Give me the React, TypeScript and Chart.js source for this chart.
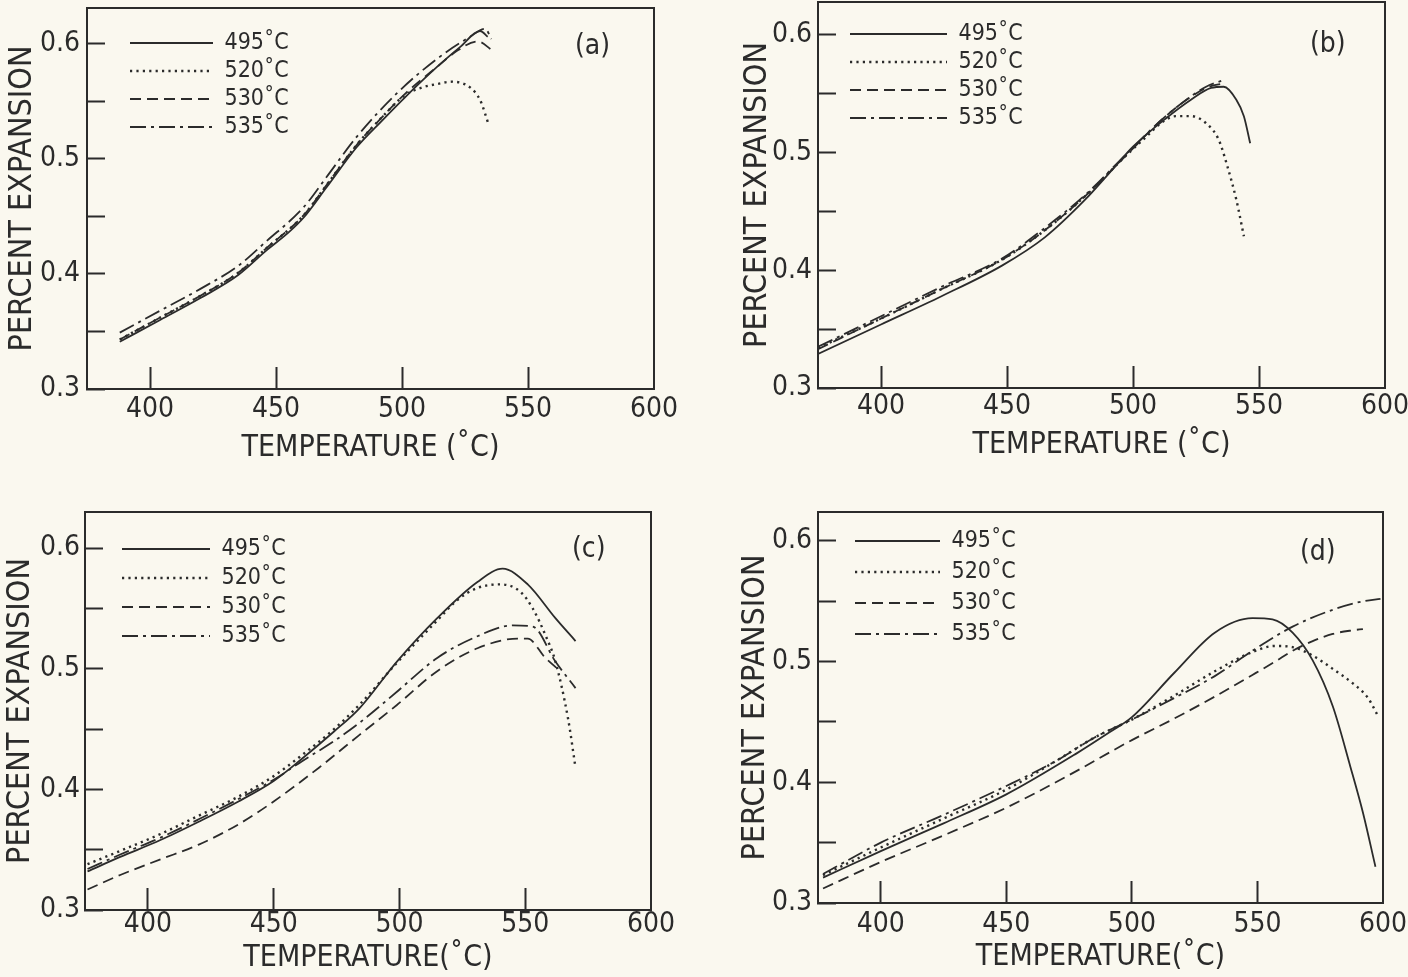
import React, { useEffect, useRef } from 'react';
import { Chart, registerables } from 'chart.js';

Chart.register(...registerables);

const FONT = "'Liberation Sans Narrow', 'DejaVu Sans Condensed', 'Liberation Sans', sans-serif";
const INK = '#2b2b2b';
const BG = '#faf8ef';

// ---------- shared labels / ticks ----------
const SERIES_LABELS = ['495˚C', '520˚C', '530˚C', '535˚C'];
const X_TICKS = [400, 450, 500, 550, 600];
const Y_TICKS = [0.3, 0.35, 0.4, 0.45, 0.5, 0.55, 0.6];
const X_MIN = 375;
const X_MAX = 600;
const Y_MIN = 0.3;

// ---------- panel (a) ----------
const A_T495 = [388, 404, 420, 435, 446, 455, 461, 470, 482, 492, 501, 514, 523, 531, 534];
const A_V495 = [0.341, 0.360, 0.379, 0.399, 0.420, 0.436, 0.449, 0.475, 0.510, 0.533, 0.553, 0.580, 0.597, 0.611, 0.606];
const A_T520 = [388, 404, 420, 435, 446, 461, 470, 482, 492, 501, 508, 514, 520, 527, 531, 534.5];
const A_V520 = [0.343, 0.362, 0.381, 0.401, 0.422, 0.451, 0.477, 0.512, 0.536, 0.555, 0.562, 0.565, 0.567, 0.562, 0.551, 0.529];
const A_T530 = [388, 404, 420, 435, 446, 461, 470, 482, 492, 501, 514, 522, 530, 536];
const A_V530 = [0.343, 0.362, 0.381, 0.401, 0.422, 0.451, 0.477, 0.512, 0.536, 0.556, 0.580, 0.594, 0.602, 0.594];
const A_T535 = [388, 404, 420, 435, 446, 461, 470, 482, 498, 514, 527, 533, 535.5];
const A_V535 = [0.349, 0.368, 0.387, 0.407, 0.428, 0.458, 0.484, 0.519, 0.557, 0.587, 0.606, 0.613, 0.604];

// ---------- panel (b) ----------
const B_T495 = [375, 400, 424, 448, 465, 481, 492, 500, 513, 523, 531, 536, 541, 544, 546.5];
const B_V495 = [0.329, 0.354, 0.378, 0.404, 0.428, 0.460, 0.486, 0.505, 0.529, 0.545, 0.555, 0.556, 0.545, 0.531, 0.508];
const B_T520 = [375, 400, 424, 448, 465, 481, 497, 506, 511, 517, 523, 529, 534, 537.5, 541, 544];
const B_V520 = [0.334, 0.359, 0.384, 0.409, 0.434, 0.463, 0.497, 0.515, 0.525, 0.531, 0.531, 0.525, 0.511, 0.488, 0.460, 0.429];
const B_T530 = [375, 400, 424, 448, 465, 481, 497, 513, 529, 536.5];
const B_V530 = [0.333, 0.359, 0.384, 0.409, 0.434, 0.463, 0.497, 0.531, 0.555, 0.559];
const B_T535 = [375, 400, 424, 448, 465, 481, 497, 513, 529, 535];
const B_V535 = [0.335, 0.361, 0.386, 0.410, 0.436, 0.464, 0.498, 0.531, 0.556, 0.561];

// ---------- panel (c) ----------
const C_T495 = [376, 389, 405, 420, 436, 450, 461, 474, 484, 499, 515, 531, 541, 551, 562, 570];
const C_V495 = [0.332, 0.344, 0.358, 0.373, 0.390, 0.407, 0.425, 0.448, 0.467, 0.506, 0.542, 0.572, 0.583, 0.570, 0.542, 0.523];
const C_T520 = [376, 389, 405, 420, 436, 450, 461, 474, 484, 499, 515, 523, 531, 540, 548, 553, 558, 562, 567, 570];
const C_V520 = [0.338, 0.349, 0.363, 0.378, 0.394, 0.411, 0.428, 0.450, 0.470, 0.505, 0.540, 0.557, 0.567, 0.570, 0.564, 0.550, 0.528, 0.506, 0.459, 0.418];
const C_T530 = [376, 389, 405, 420, 436, 450, 468, 484, 499, 515, 531, 547, 551, 558, 564];
const C_V530 = [0.317, 0.329, 0.342, 0.354, 0.371, 0.390, 0.418, 0.445, 0.470, 0.498, 0.517, 0.525, 0.525, 0.509, 0.498];
const C_T535 = [376, 389, 405, 420, 436, 450, 461, 474, 484, 499, 515, 531, 545, 553, 562, 570];
const C_V535 = [0.334, 0.346, 0.360, 0.375, 0.392, 0.408, 0.423, 0.440, 0.455, 0.481, 0.509, 0.527, 0.536, 0.535, 0.506, 0.484];

// ---------- panel (d) ----------
const D_T495 = [377, 400, 425, 450, 478, 490, 500, 517, 533, 548, 556, 564, 572, 580, 587, 592, 597];
const D_V495 = [0.321, 0.343, 0.366, 0.390, 0.424, 0.440, 0.454, 0.491, 0.524, 0.536, 0.535, 0.524, 0.501, 0.463, 0.413, 0.375, 0.330];
const D_T520 = [377, 400, 425, 450, 470, 485, 500, 517, 533, 548, 557, 564, 572, 580, 588, 594, 598];
const D_V520 = [0.323, 0.346, 0.370, 0.394, 0.418, 0.437, 0.452, 0.472, 0.492, 0.508, 0.513, 0.512, 0.505, 0.494, 0.482, 0.470, 0.455];
const D_T530 = [377, 400, 425, 450, 475, 500, 517, 533, 548, 557, 564, 572, 580, 588, 592];
const D_V530 = [0.312, 0.334, 0.356, 0.379, 0.406, 0.435, 0.453, 0.471, 0.489, 0.500, 0.509, 0.517, 0.523, 0.526, 0.527];
const D_T535 = [377, 400, 425, 450, 470, 485, 500, 517, 533, 548, 564, 580, 592, 599];
const D_V535 = [0.324, 0.350, 0.373, 0.397, 0.418, 0.437, 0.452, 0.470, 0.488, 0.509, 0.529, 0.543, 0.550, 0.552];

// ---------- styles (not data) ----------
const LINE_DASH = [[], [2.2, 4.2], [11, 6], [16, 5, 3, 5]];
const LINE_WIDTH = [1.8, 2.4, 1.8, 1.8];

const TICK_SIZE = 28;
const LEGEND_SIZE = 23;
const XTITLE_SIZE = 30;
const YTITLE_SIZE = 32;

type PanelCfg = {
  tag: string;
  canvas: { x: number; y: number; w: number; h: number };
  area: { l: number; t: number; r: number; b: number };
  yMax: number;
  temps: number[][];
  vals: number[][];
  xTitle: string;
  xTitlePad: number;
  yTitlePad: number;
  xTickPad: number;
  yTickPad: number;
  legend: { x: number; y: number; w: number; gap: number };
  tagPos: { x: number; y: number };
};

const PANELS: PanelCfg[] = [
  {
    tag: '(a)',
    canvas: { x: 0, y: 0, w: 704, h: 488 },
    area: { l: 87, t: 8, r: 654, b: 389 },
    yMax: 0.631,
    temps: [A_T495, A_T520, A_T530, A_T535],
    vals: [A_V495, A_V520, A_V530, A_V535],
    xTitle: 'TEMPERATURE (˚C)',
    xTitlePad: 22,
    yTitlePad: 3,
    xTickPad: 26,
    yTickPad: 25,
    legend: { x: 130, y: 43, w: 83, gap: 28 },
    tagPos: { x: 575, y: 45 },
  },
  {
    tag: '(b)',
    canvas: { x: 704, y: 0, w: 704, h: 488 },
    area: { l: 818, t: 2, r: 1385, b: 388 },
    yMax: 0.628,
    temps: [B_T495, B_T520, B_T530, B_T535],
    vals: [B_V495, B_V520, B_V530, B_V535],
    xTitle: 'TEMPERATURE (˚C)',
    xTitlePad: 25,
    yTitlePad: 34,
    xTickPad: 24,
    yTickPad: 24,
    legend: { x: 850, y: 34, w: 97, gap: 28 },
    tagPos: { x: 1310, y: 43 },
  },
  {
    tag: '(c)',
    canvas: { x: 0, y: 488, w: 704, h: 489 },
    area: { l: 85, t: 512, r: 651, b: 910 },
    yMax: 0.63,
    temps: [C_T495, C_T520, C_T530, C_T535],
    vals: [C_V495, C_V520, C_V530, C_V535],
    xTitle: 'TEMPERATURE(˚C)',
    xTitlePad: 1,
    yTitlePad: 1,
    xTickPad: 20,
    yTickPad: 23,
    legend: { x: 122, y: 549, w: 88, gap: 29 },
    tagPos: { x: 572, y: 548 },
  },
  {
    tag: '(d)',
    canvas: { x: 704, y: 488, w: 704, h: 489 },
    area: { l: 818, t: 512, r: 1383, b: 903 },
    yMax: 0.624,
    temps: [D_T495, D_T520, D_T530, D_T535],
    vals: [D_V495, D_V520, D_V530, D_V535],
    xTitle: 'TEMPERATURE(˚C)',
    xTitlePad: 2,
    yTitlePad: 32,
    xTickPad: 27,
    yTickPad: 24,
    legend: { x: 855, y: 541, w: 85, gap: 31 },
    tagPos: { x: 1300, y: 551 },
  },
];

function buildConfig(p: PanelCfg): any {
  const { canvas, area } = p;
  const yW = area.l - canvas.x;
  const xH = canvas.y + canvas.h - area.b;
  const padTop = area.t - canvas.y;
  const padRight = canvas.x + canvas.w - area.r;
  const rowPad = p.legend.gap - LEGEND_SIZE;

  const datasets = SERIES_LABELS.map((label, i) => ({
    label,
    data: p.temps[i].map((t, k) => ({ x: t, y: p.vals[i][k] })),
    borderColor: INK,
    backgroundColor: INK,
    borderWidth: LINE_WIDTH[i],
    borderDash: LINE_DASH[i],
    borderCapStyle: 'butt',
    pointRadius: 0,
    pointHoverRadius: 0,
    fill: false,
    cubicInterpolationMode: 'monotone',
  }));

  const legendPlacer = {
    id: 'legendPlacer',
    afterLayout(chart: any) {
      const lg = chart.legend;
      if (!lg) return;
      lg.left = p.legend.x - canvas.x - rowPad;
      lg.top = p.legend.y - canvas.y - LEGEND_SIZE / 2 - rowPad;
      lg.right = chart.width;
      lg.bottom = chart.height;
    },
  };

  const tickFont = { family: FONT, size: TICK_SIZE };

  return {
    type: 'line',
    data: { datasets },
    plugins: [legendPlacer],
    options: {
      responsive: false,
      maintainAspectRatio: false,
      devicePixelRatio: 1,
      animation: false,
      events: [],
      layout: { padding: { left: 0, top: padTop, right: padRight, bottom: 0 } },
      plugins: {
        tooltip: { enabled: false },
        legend: {
          display: true,
          position: 'chartArea',
          align: 'start',
          labels: {
            usePointStyle: true,
            pointStyle: 'line',
            pointStyleWidth: p.legend.w,
            padding: rowPad,
            color: INK,
            font: { family: FONT, size: LEGEND_SIZE },
            generateLabels: (chart: any) => {
              const items = (Chart.defaults.plugins.legend.labels as any).generateLabels(chart);
              return items.map((it: any, i: number) => ({
                ...it,
                pointStyle: 'line',
                lineDash: LINE_DASH[i],
                lineWidth: LINE_WIDTH[i],
                lineCap: 'butt',
                strokeStyle: INK,
                fillStyle: INK,
              }));
            },
          },
        },
      },
      scales: {
        x: {
          type: 'linear',
          position: 'bottom',
          min: X_MIN,
          max: X_MAX,
          afterBuildTicks: (s: any) => {
            s.ticks = X_TICKS.map((v) => ({ value: v }));
          },
          afterFit: (s: any) => {
            s.height = xH;
            s.paddingLeft = 0;
            s.paddingRight = 0;
          },
          ticks: {
            autoSkip: false,
            maxRotation: 0,
            padding: p.xTickPad,
            color: INK,
            font: tickFont,
            callback: (v: number) => String(v),
          },
          grid: {
            drawOnChartArea: false,
            tickLength: -22,
            tickWidth: 2,
            tickColor: (ctx: any) => (ctx.tick && ctx.tick.value === X_MAX ? 'rgba(0,0,0,0)' : INK),
          },
          border: { display: true, color: INK, width: 2 },
          title: {
            display: true,
            text: p.xTitle,
            color: INK,
            font: { family: FONT, size: XTITLE_SIZE },
            padding: { top: 0, bottom: p.xTitlePad },
          },
        },
        y: {
          type: 'linear',
          position: 'left',
          min: Y_MIN,
          max: p.yMax,
          afterBuildTicks: (s: any) => {
            s.ticks = Y_TICKS.map((v) => ({ value: v }));
          },
          afterFit: (s: any) => {
            s.width = yW;
            s.paddingTop = 0;
            s.paddingBottom = 0;
          },
          ticks: {
            autoSkip: false,
            padding: p.yTickPad,
            color: INK,
            font: tickFont,
            callback: (v: number) => {
              const r = Math.round(v * 100);
              return r % 10 === 0 ? (r / 100).toFixed(1) : '';
            },
          },
          grid: {
            drawOnChartArea: false,
            tickLength: -18,
            tickWidth: 2,
            tickColor: INK,
          },
          border: { display: true, color: INK, width: 2 },
          title: {
            display: true,
            text: 'PERCENT EXPANSION',
            color: INK,
            font: { family: FONT, size: YTITLE_SIZE },
            padding: { top: p.yTitlePad, bottom: 0 },
          },
        },
        x2: {
          type: 'linear',
          position: 'top',
          min: X_MIN,
          max: X_MAX,
          afterFit: (s: any) => {
            s.height = 0;
            s.paddingLeft = 0;
            s.paddingRight = 0;
          },
          ticks: { display: false },
          grid: { drawOnChartArea: false, drawTicks: false },
          border: { display: true, color: INK, width: 2 },
        },
        y2: {
          type: 'linear',
          position: 'right',
          min: Y_MIN,
          max: p.yMax,
          afterFit: (s: any) => {
            s.width = 0;
            s.paddingTop = 0;
            s.paddingBottom = 0;
          },
          ticks: { display: false },
          grid: { drawOnChartArea: false, drawTicks: false },
          border: { display: true, color: INK, width: 2 },
        },
      },
    },
  };
}

function Panel({ cfg }: { cfg: PanelCfg }) {
  const ref = useRef<HTMLCanvasElement>(null);
  useEffect(() => {
    if (!ref.current) return;
    const chart = new Chart(ref.current, buildConfig(cfg));
    return () => chart.destroy();
  }, [cfg]);
  return (
    <>
      <canvas
        ref={ref}
        width={cfg.canvas.w}
        height={cfg.canvas.h}
        style={{
          position: 'absolute',
          left: cfg.canvas.x,
          top: cfg.canvas.y,
          width: cfg.canvas.w,
          height: cfg.canvas.h,
        }}
      />
      <span
        style={{
          position: 'absolute',
          left: cfg.tagPos.x,
          top: cfg.tagPos.y - 16,
          fontFamily: FONT,
          fontSize: 28,
          lineHeight: '32px',
          color: INK,
          whiteSpace: 'nowrap',
        }}
      >
        {cfg.tag}
      </span>
    </>
  );
}

export default function App() {
  return (
    <div
      style={{
        position: 'fixed',
        left: 0,
        top: 0,
        width: 1408,
        height: 977,
        background: BG,
        overflow: 'hidden',
      }}
    >
      {PANELS.map((p) => (
        <Panel key={p.tag} cfg={p} />
      ))}
    </div>
  );
}
